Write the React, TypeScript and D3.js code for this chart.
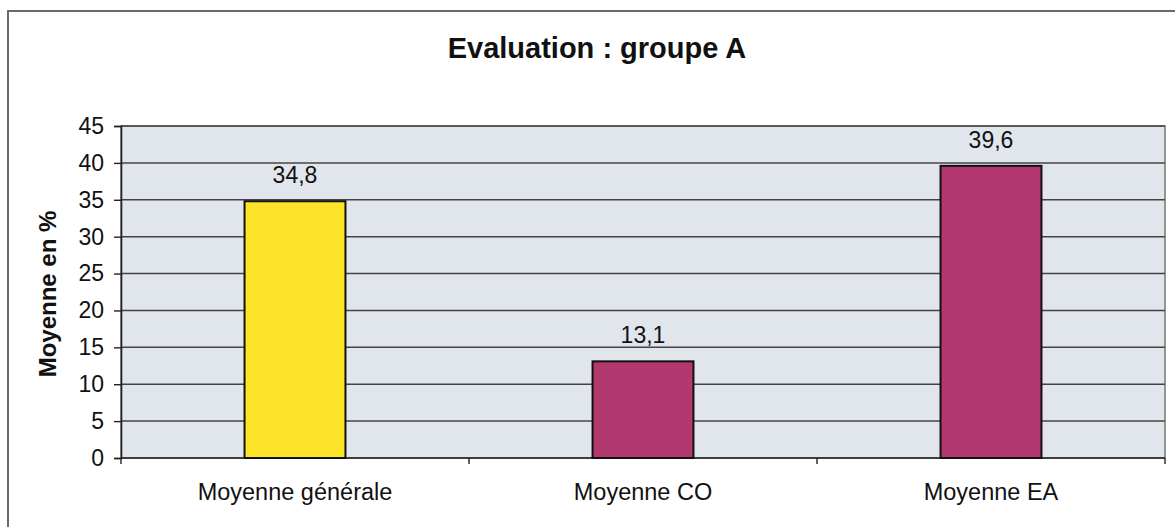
import { useEffect, useRef } from 'react'
import * as d3 from 'd3'

const CATEGORIES = ['Moyenne générale', 'Moyenne CO', 'Moyenne EA']
const VALUES = [34.8, 13.1, 39.6]
const BAR_COLORS = ['#fde428', '#b2386f', '#b2386f']
const Y_TICKS = [0, 5, 10, 15, 20, 25, 30, 35, 40, 45]
const TITLE = 'Evaluation : groupe A'
const Y_LABEL = 'Moyenne en %'

export default function App() {
  const svgRef = useRef<SVGSVGElement>(null)

  useEffect(() => {
    const svgEl = svgRef.current
    if (!svgEl) return
    const W = 1175
    const H = 527
    const m = { left: 121, right: 10, top: 126, bottom: 69 }
    const svg = d3.select(svgEl).attr('width', W).attr('height', H)
    svg.selectAll('*').remove()
    const font = 'Liberation Sans, Arial, sans-serif'

    // outer chart frame (runs past the picture on right/bottom)
    svg.append('rect').attr('width', W).attr('height', H).attr('fill', '#fff')
    svg.append('rect').attr('x', 8).attr('y', 11).attr('width', W + 20).attr('height', H + 20)
      .attr('fill', 'none').attr('stroke', '#6a6a6a').attr('stroke-width', 2)

    const x = d3.scaleBand<string>().domain(CATEGORIES).range([m.left, W - m.right]).paddingInner(0.71).paddingOuter(0.355)
    const y = d3.scaleLinear().domain([0, 45]).range([H - m.bottom, m.top])
    const x0 = m.left, x1 = W - m.right

    // plot area
    svg.append('rect').attr('x', x0).attr('y', y(45)).attr('width', x1 - x0).attr('height', y(0) - y(45))
      .attr('fill', '#e1e5ec').attr('stroke', '#777').attr('stroke-width', 1.5)

    // gridlines
    svg.append('g').selectAll('line').data(Y_TICKS.filter(t => t > 0)).join('line')
      .attr('x1', x0).attr('x2', x1).attr('y1', d => y(d)).attr('y2', d => y(d))
      .attr('stroke', '#444').attr('stroke-width', 1.5)

    // y axis
    const yAxis = svg.append('g').attr('transform', `translate(${x0},0)`)
      .call(d3.axisLeft(y).tickValues(Y_TICKS).tickSize(7).tickPadding(10).tickFormat(d3.format('d')))
    yAxis.select('.domain').attr('stroke', '#222').attr('stroke-width', 1.6)
    yAxis.selectAll('.tick line').attr('stroke', '#222').attr('stroke-width', 1.4)
    yAxis.selectAll('.tick text').attr('font-family', font).attr('font-size', 23).attr('fill', '#111')

    // x axis, ticks at band boundaries
    const step = x.step()
    const bounds = d3.range(CATEGORIES.length + 1).map(i => x0 + i * step)
    svg.append('line').attr('x1', x0).attr('x2', x1).attr('y1', y(0)).attr('y2', y(0))
      .attr('stroke', '#222').attr('stroke-width', 1.6)
    svg.append('g').selectAll('line').data(bounds).join('line')
      .attr('x1', d => d).attr('x2', d => d).attr('y1', y(0)).attr('y2', y(0) + 6)
      .attr('stroke', '#222').attr('stroke-width', 1.4)
    svg.append('g').selectAll('text').data(CATEGORIES).join('text')
      .attr('x', d => x(d)! + x.bandwidth() / 2).attr('y', y(0) + 42)
      .attr('text-anchor', 'middle').attr('font-family', font).attr('font-size', 23.5).attr('fill', '#111')
      .text(d => d)

    // bars
    svg.append('g').selectAll('rect').data(VALUES).join('rect')
      .attr('x', (_, i) => x(CATEGORIES[i])!).attr('width', x.bandwidth())
      .attr('y', d => y(d)).attr('height', d => y(0) - y(d))
      .attr('fill', (_, i) => BAR_COLORS[i]).attr('stroke', '#111').attr('stroke-width', 2)

    // value labels
    svg.append('g').selectAll('text').data(VALUES).join('text')
      .attr('x', (_, i) => x(CATEGORIES[i])! + x.bandwidth() / 2).attr('y', d => y(d) - 18)
      .attr('text-anchor', 'middle').attr('font-family', font).attr('font-size', 23).attr('fill', '#111')
      .text(d => d.toFixed(1).replace('.', ','))

    // title
    svg.append('text').attr('x', 597).attr('y', 58).attr('text-anchor', 'middle')
      .attr('font-family', font).attr('font-size', 29).attr('font-weight', 'bold').attr('fill', '#111')
      .text(TITLE)

    // y label
    svg.append('text').attr('transform', `translate(56,${(y(0) + y(45)) / 2 + 2}) rotate(-90)`)
      .attr('text-anchor', 'middle').attr('font-family', font).attr('font-size', 24).attr('font-weight', 'bold').attr('fill', '#111')
      .text(Y_LABEL)

    return () => { svg.selectAll('*').remove() }
  }, [])

  return (
    <div style={{ position: 'absolute', left: 0, top: 0, width: 1175, height: 527 }}>
      <svg ref={svgRef} style={{ display: 'block' }} />
    </div>
  )
}
